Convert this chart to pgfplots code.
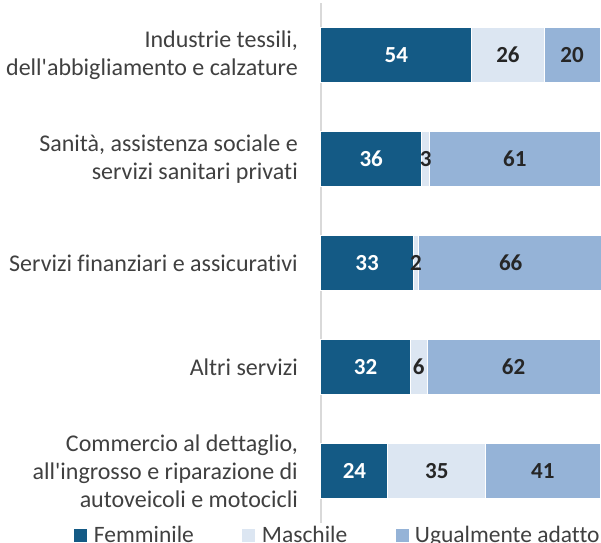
\documentclass[border=0pt]{standalone}
\usepackage{pgfplots}
\pgfplotsset{compat=1.18}
\usepackage{pgfplotstable}
\usepackage{fontspec}
\setmainfont{Carlito}[Ligatures={TeXOff,NoCommon}]

\definecolor{femm}{HTML}{145A85}
\definecolor{masc}{HTML}{DCE6F2}
\definecolor{ugua}{HTML}{95B3D7}
\definecolor{txt}{HTML}{262626}
\definecolor{lbl}{HTML}{404040}
\definecolor{axisgray}{HTML}{D9D9D9}

% shares by sector: femminile, maschile, ugualmente adatto
\pgfplotstableread{
pos f  m  u
0   54 26 20
1   36 3  61
2   33 2  66
3   32 6  62
4   24 35 41
}\shares

\newcommand{\catfont}{\fontsize{24}{28}\selectfont}
\newcommand{\valfont}{\fontsize{23}{28}\selectfont}
\newcommand{\legfont}{\fontsize{23.5}{28}\selectfont}

\begin{document}
\begin{tikzpicture}
\begin{axis}[
    xbar stacked,
    scale only axis,
    width=279pt, height=520pt,
    xmin=0, xmax=100, ymin=-0.5, ymax=4.5,
    clip=false,
    y dir=reverse,
    bar width=55pt,
    axis x line=none,
    axis y line=left,
    y axis line style={-, draw=axisgray, line width=1.5pt},
    ytick={0,...,4},
    yticklabels={
        {Industrie tessili,\\dell'abbigliamento e calzature},
        {Sanità, assistenza sociale e\\servizi sanitari privati},
        {Servizi finanziari e assicurativi},
        {Altri servizi},
        {Commercio al dettaglio,\\all'ingrosso e riparazione di\\autoveicoli e motocicli}
    },
    major tick length=0pt,
    yticklabel style={align=right, font=\catfont, text=lbl, inner sep=0pt, xshift=-23pt},
    /pgf/number format/assume math mode=true,
    nodes near coords={\pgfmathprintnumber{\pgfplotspointmeta}},
    point meta=explicit,
    every node near coord/.append style={anchor=center, font=\bfseries\valfont},
    legend columns=3,
    legend style={draw=none, fill=none, at={(axis description cs:-0.8889,-0.0231)},
        anchor=west, inner sep=0pt, outer sep=0pt, font=\legfont, text=lbl,
        nodes={inner sep=0pt},
        /tikz/every even column/.append style={column sep=0pt},
        /tikz/every odd column/.append style={column sep=0pt}},
    legend image code/.code={\fill[#1] (0pt,-7pt) rectangle (14pt,7pt);},
]
\addplot[fill=femm, draw=white, line width=1pt,
    every node near coord/.append style={text=white}]
    table[x=f, y=pos, meta=f] {\shares};
\addlegendentry{\hspace{6pt}\makebox[147pt][l]{Femminile}}
\addplot[fill=masc, draw=white, line width=1pt,
    every node near coord/.append style={text=txt}]
    table[x=m, y=pos, meta=m] {\shares};
\addlegendentry{\hspace{6pt}\makebox[133pt][l]{Maschile}}
\addplot[fill=ugua, draw=white, line width=1pt,
    every node near coord/.append style={text=txt}]
    table[x=u, y=pos, meta=u] {\shares};
\addlegendentry{\hspace{5pt}Ugualmente adatto}
\end{axis}
\pgfresetboundingbox
\useasboundingbox (-321pt,-19pt) rectangle (280pt,523pt);
\end{tikzpicture}
\end{document}
